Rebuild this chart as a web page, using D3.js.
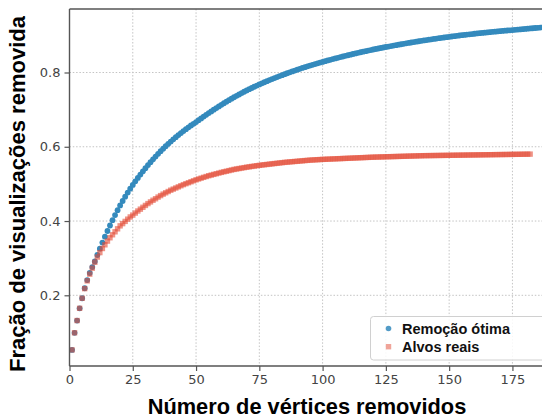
<!DOCTYPE html>
<html><head><meta charset="utf-8">
<script src="https://cdn.jsdelivr.net/npm/d3@7"></script>
<style>body{margin:0;background:#fff}svg{display:block}</style>
</head><body>
<svg id="c" width="542" height="420"></svg>
<script>
// Série "Remoção ótima" (fração removida para k = 1, 2, ... vértices)
const optimalValues = [
0.053,0.099,0.132,0.165,0.192,0.219,0.241,0.260,0.276,0.291,
0.3085,0.3255,0.3419,0.3578,0.3732,0.3880,0.4023,0.4160,0.4292,0.4419,
0.4540,0.4656,0.4767,0.4872,0.4972,0.5068,0.5161,0.5251,0.5339,0.5424,
0.5506,0.5585,0.5663,0.5737,0.5810,0.5880,0.5948,0.6014,0.6078,0.6140,
0.6200,0.6259,0.6315,0.6370,0.6423,0.6474,0.6524,0.6572,0.6619,0.6665,
0.6715,0.6764,0.6813,0.6860,0.6907,0.6953,0.6998,0.7043,0.7087,0.7130,
0.7172,0.7213,0.7254,0.7294,0.7333,0.7371,0.7408,0.7445,0.7481,0.7516,
0.7550,0.7583,0.7616,0.7648,0.7679,0.7709,0.7738,0.7766,0.7795,0.7822,
0.7850,0.7877,0.7903,0.7929,0.7955,0.7980,0.8005,0.8029,0.8053,0.8076,
0.8099,0.8122,0.8144,0.8165,0.8186,0.8207,0.8228,0.8248,0.8267,0.8286,
0.8305,0.8324,0.8342,0.8361,0.8379,0.8396,0.8414,0.8431,0.8448,0.8465,
0.8481,0.8498,0.8514,0.8529,0.8545,0.8560,0.8575,0.8590,0.8604,0.8619,
0.8633,0.8646,0.8660,0.8673,0.8686,0.8699,0.8712,0.8724,0.8737,0.8749,
0.8761,0.8773,0.8785,0.8797,0.8808,0.8820,0.8831,0.8842,0.8853,0.8863,
0.8874,0.8884,0.8894,0.8904,0.8914,0.8924,0.8933,0.8943,0.8952,0.8961,
0.8970,0.8979,0.8987,0.8996,0.9004,0.9013,0.9021,0.9029,0.9036,0.9044,
0.9052,0.9059,0.9066,0.9073,0.9080,0.9087,0.9094,0.9100,0.9107,0.9113,
0.9119,0.9125,0.9131,0.9137,0.9142,0.9149,0.9155,0.9161,0.9168,0.9174,
0.9180,0.9186,0.9192,0.9198,0.9204,0.9210,0.9216
];
// Série "Alvos reais"
const realValues = [
0.053,0.099,0.132,0.165,0.192,0.218,0.239,0.257,0.273,0.289,
0.303,0.315,0.326,0.336,0.346,0.355,0.363,0.371,0.379,0.387,
0.393,0.399,0.405,0.411,0.416,0.4215,0.427,0.432,0.437,0.442,
0.447,0.4515,0.456,0.460,0.4645,0.4685,0.4725,0.476,0.4795,0.483,
0.486,0.489,0.492,0.495,0.498,0.5006,0.5032,0.5058,0.5084,0.511,
0.5133,0.5155,0.5177,0.5199,0.522,0.5238,0.5256,0.5274,0.5292,0.531,
0.5326,0.5342,0.5358,0.5374,0.539,0.5402,0.5414,0.5426,0.5438,0.545,
0.546,0.547,0.548,0.549,0.550,0.5508,0.5516,0.5524,0.5532,0.554,
0.5548,0.5556,0.5564,0.5572,0.558,0.5586,0.5592,0.5598,0.5604,0.561,
0.5616,0.5622,0.5628,0.5634,0.564,0.5644,0.5648,0.5652,0.5656,0.566,
0.5663,0.5666,0.5669,0.5672,0.5675,0.5678,0.5681,0.5684,0.5687,0.569,
0.5693,0.5696,0.5699,0.5702,0.5705,0.5708,0.5711,0.5714,0.5717,0.572,
0.5722,0.5724,0.5726,0.5728,0.573,0.5732,0.5734,0.5736,0.5738,0.574,
0.5742,0.5744,0.5746,0.5748,0.575,0.5752,0.5754,0.5756,0.5758,0.576,
0.5761,0.5762,0.5763,0.5764,0.5765,0.5766,0.5767,0.5768,0.5769,0.577,
0.5771,0.5772,0.5773,0.5774,0.5775,0.5776,0.5777,0.5778,0.5779,0.578,
0.5781,0.5782,0.5783,0.5784,0.5785,0.5786,0.5787,0.5788,0.5789,0.579,
0.5791,0.5792,0.5793,0.5794,0.5795,0.5796,0.5797,0.5798,0.5799,0.580,
0.5801,0.5802
];
const xTicks = [0, 25, 50, 75, 100, 125, 150, 175];
const yTicks = [0.2, 0.4, 0.6, 0.8];
const seriesNames = ["Remoção ótima", "Alvos reais"];
const xTitle = "Número de vértices removidos";
const yTitle = "Fração de visualizações removida";

const svg = d3.select("#c");
const L = 69.5, T = 9, B = 366;
const x = d3.scaleLinear().domain([0, 190]).range([L, L + 190 * 2.531]);
const y = d3.scaleLinear().domain([0.0096, 0.971]).range([B, T]);

const blue = "#348ABD", red = "#E24A33";

svg.append("clipPath").attr("id", "clip").append("rect")
  .attr("x", L).attr("y", T).attr("width", 542 - L).attr("height", B - T);

// grid
const grid = svg.append("g");
grid.selectAll(".gx").data(xTicks.filter(d => d > 0)).join("line")
  .attr("x1", d => x(d)).attr("x2", d => x(d)).attr("y1", T).attr("y2", B)
  .attr("stroke", "#c4c4c4").attr("stroke-width", 1).attr("stroke-dasharray", "1.5,1.8");
grid.selectAll(".gy").data(yTicks).join("line")
  .attr("x1", L).attr("x2", 542).attr("y1", d => y(d)).attr("y2", d => y(d))
  .attr("stroke", "#c4c4c4").attr("stroke-width", 1).attr("stroke-dasharray", "1.5,1.8");

const plot = svg.append("g").attr("clip-path", "url(#clip)");
plot.selectAll(".b").data(optimalValues).join("circle")
  .attr("cx", (d, i) => x(i + 1)).attr("cy", d => y(d)).attr("r", 2.9)
  .attr("fill", blue);
plot.selectAll(".r").data(realValues).join("rect")
  .attr("x", (d, i) => x(i + 1) - 2.7).attr("y", d => y(d) - 2.7)
  .attr("width", 5.4).attr("height", 5.4)
  .attr("fill", red).attr("fill-opacity", 0.6);

// axes
const xAxis = d3.axisBottom(x).tickValues(xTicks).tickFormat(d3.format("d")).tickSize(5).tickPadding(4);
const yAxis = d3.axisLeft(y).tickValues(yTicks).tickFormat(d3.format(".1f")).tickSize(5).tickPadding(4);
const gx = svg.append("g").attr("transform", `translate(0,${B})`).call(xAxis);
const gy = svg.append("g").attr("transform", `translate(${L},0)`).call(yAxis);
[gx, gy].forEach(g => {
  g.select(".domain").remove();
  g.selectAll("line").attr("stroke", "#555").attr("stroke-width", 1.2);
  g.selectAll("text").attr("fill", "#444").attr("font-family", "DejaVu Sans")
    .attr("font-size", 13);
});

// spines
svg.append("line").attr("x1", L).attr("x2", L).attr("y1", T).attr("y2", B)
  .attr("stroke", "#555").attr("stroke-width", 1.4);
svg.append("line").attr("x1", L).attr("x2", 542).attr("y1", B).attr("y2", B)
  .attr("stroke", "#555").attr("stroke-width", 1.4);
svg.append("line").attr("x1", L).attr("x2", 542).attr("y1", T).attr("y2", T)
  .attr("stroke", "#555").attr("stroke-width", 1.4);

// legend
const lg = svg.append("g");
lg.append("rect").attr("x", 370.5).attr("y", 316.5).attr("width", 180).attr("height", 43.5)
  .attr("rx", 3).attr("fill", "#fff").attr("fill-opacity", 0.85)
  .attr("stroke", "#d0d0d0").attr("stroke-width", 1);
lg.append("circle").attr("cx", 388.5).attr("cy", 328.5).attr("r", 2.8).attr("fill", blue).attr("fill-opacity", 0.85);
lg.append("rect").attr("x", 385.8).attr("y", 344).attr("width", 5.4).attr("height", 5.4)
  .attr("fill", red).attr("fill-opacity", 0.5);
lg.selectAll("text.l").data(seriesNames).join("text")
  .attr("x", 402).attr("y", (d, i) => 334 + i * 17.5)
  .attr("font-family", "Liberation Sans, Arial, sans-serif").attr("font-weight", "bold")
  .attr("font-size", 14.5).attr("fill", "#111").text(d => d);

// titles
svg.append("text").attr("x", 307).attr("y", 414).attr("text-anchor", "middle")
  .attr("font-family", "Liberation Sans, Arial, sans-serif").attr("font-weight", "bold")
  .attr("font-size", 21.8).attr("fill", "#000").text(xTitle);
svg.append("text").attr("transform", "translate(25,194) rotate(-90)").attr("text-anchor", "middle")
  .attr("font-family", "Liberation Sans, Arial, sans-serif").attr("font-weight", "bold")
  .attr("font-size", 22).attr("fill", "#000").text(yTitle);
</script>
</body></html>
